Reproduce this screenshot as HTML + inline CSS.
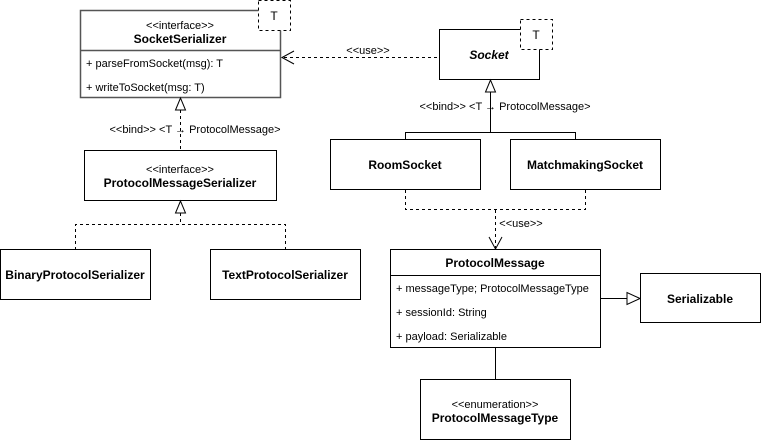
<!DOCTYPE html>
<html><head><meta charset="utf-8"><style>
html,body{margin:0;padding:0;background:#fff;}
svg{display:block;}
text{font-family:"Liberation Sans",Arial,sans-serif;fill:#000;}
.b{font-weight:bold;font-size:12px;}
.s{font-size:11px;}
.m{font-size:11px;}
</style></head><body>
<svg width="764" height="441" viewBox="0 0 764 441" xmlns="http://www.w3.org/2000/svg">
<g fill="none" stroke="#000" stroke-width="1">
<rect x="80.5" y="10.5" width="200" height="87" fill="#fff" stroke="#555" stroke-width="1.5"/>
<line x1="80" y1="50.5" x2="280" y2="50.5" stroke="#555" stroke-width="1.5"/>
<rect x="258.5" y="0.5" width="32" height="30" fill="#fff" stroke-dasharray="3,3"/>
<line x1="180.5" y1="110" x2="180.5" y2="150" stroke-dasharray="3,3"/>
<polygon points="180.5,98 175.5,110 185.5,110" fill="#fff"/>
<rect x="84.5" y="150.5" width="192" height="50" fill="#fff"/>
<polygon points="180.5,201 175.5,213 185.5,213" fill="#fff"/>
<polyline points="75.5,250 75.5,224.5 285.5,224.5 285.5,250" stroke-dasharray="3,3"/>
<line x1="180.5" y1="213" x2="180.5" y2="224" stroke-dasharray="3,3"/>
<rect x="0.5" y="249.5" width="150" height="50" fill="#fff"/>
<rect x="210.5" y="249.5" width="150" height="50" fill="#fff"/>
<rect x="439.5" y="29.5" width="100" height="50" fill="#fff"/>
<rect x="520.5" y="19.5" width="32" height="30" fill="#fff" stroke-dasharray="3,3"/>
<line x1="284" y1="57.5" x2="439" y2="57.5" stroke-dasharray="3,3"/>
<polyline points="294,51 282,57.5 294,64"/>
<polygon points="490.5,80 485.5,92 495.5,92" fill="#fff"/>
<line x1="490.5" y1="92" x2="490.5" y2="132"/>
<polyline points="405.5,139 405.5,132.5 575.5,132.5 575.5,139"/>
<rect x="330.5" y="139.5" width="150" height="50" fill="#fff"/>
<rect x="510.5" y="139.5" width="150" height="50" fill="#fff"/>
<polyline points="405.5,190 405.5,209.5 585.5,209.5 585.5,190" stroke-dasharray="3,3"/>
<line x1="495.5" y1="210" x2="495.5" y2="248" stroke-dasharray="3,3"/>
<polyline points="489,237 495.5,249 502,237"/>
<rect x="390.5" y="249.5" width="210" height="98" fill="#fff"/>
<line x1="390" y1="275.5" x2="600" y2="275.5"/>
<line x1="601" y1="298.5" x2="627" y2="298.5"/>
<polygon points="640,298.5 627,292.5 627,304.5" fill="#fff"/>
<rect x="640.5" y="273.5" width="120" height="49" fill="#fff"/>
<line x1="495.5" y1="348" x2="495.5" y2="379"/>
<rect x="420.5" y="379.5" width="150" height="60" fill="#fff"/>
</g>
<text x="180" y="29" text-anchor="middle" class="s">&lt;&lt;interface&gt;&gt;</text>
<text x="180" y="43" text-anchor="middle" class="b">SocketSerializer</text>
<text x="274" y="20" text-anchor="middle" style="font-size:12px">T</text>
<text x="86" y="67" class="m">+ parseFromSocket(msg): T</text>
<text x="86" y="91" class="m">+ writeToSocket(msg: T)</text>
<text x="195" y="133" text-anchor="middle" class="s">&lt;&lt;bind&gt;&gt; &lt;T → ProtocolMessage&gt;</text>
<text x="180" y="173" text-anchor="middle" class="s">&lt;&lt;interface&gt;&gt;</text>
<text x="180" y="187" text-anchor="middle" class="b">ProtocolMessageSerializer</text>
<text x="75" y="279" text-anchor="middle" class="b">BinaryProtocolSerializer</text>
<text x="285" y="279" text-anchor="middle" class="b">TextProtocolSerializer</text>
<text x="368" y="54" text-anchor="middle" class="s">&lt;&lt;use&gt;&gt;</text>
<text x="489" y="59" text-anchor="middle" class="b" font-style="italic">Socket</text>
<text x="536" y="39" text-anchor="middle" style="font-size:12px">T</text>
<text x="505" y="110" text-anchor="middle" class="s">&lt;&lt;bind&gt;&gt; &lt;T → ProtocolMessage&gt;</text>
<text x="405" y="169" text-anchor="middle" class="b">RoomSocket</text>
<text x="585" y="169" text-anchor="middle" class="b">MatchmakingSocket</text>
<text x="521" y="227" text-anchor="middle" class="s">&lt;&lt;use&gt;&gt;</text>
<text x="495" y="267" text-anchor="middle" class="b">ProtocolMessage</text>
<text x="396" y="292" class="m">+ messageType; ProtocolMessageType</text>
<text x="396" y="316" class="m">+ sessionId: String</text>
<text x="396" y="340" class="m">+ payload: Serializable</text>
<text x="700" y="303" text-anchor="middle" class="b">Serializable</text>
<text x="495" y="408" text-anchor="middle" class="s">&lt;&lt;enumeration&gt;&gt;</text>
<text x="495" y="422" text-anchor="middle" class="b">ProtocolMessageType</text>
</svg>
</body></html>
